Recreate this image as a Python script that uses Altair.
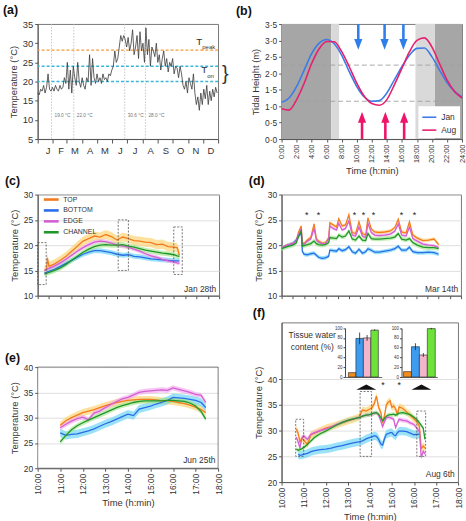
import altair as alt
import pandas as pd

FONT = "Liberation Sans"
TXT = "#333333"
FRAME = "#6a6a6a"

# ---------------- (a) annual daily temperature ----------------
a_days = list(range(0, 366, 3))
a_temp = [
    17, 16.5, 18, 17.5, 19, 17, 18.5, 22, 18, 17.5, 18.5,
    17.5, 19, 18, 17.5, 19, 18, 18.5, 21, 19.5,
    25, 18, 23, 17, 24, 21, 19, 25, 20, 18.5, 21,
    19, 18, 21, 20, 27, 19, 26, 21, 19.5,
    22, 20, 21, 19.5, 22, 20.5, 21, 20, 22, 21.5, 23,
    24, 28, 25, 26, 29, 32, 30.5, 32, 31, 29,
    31.5, 28, 30, 33.5, 27, 29, 32, 26, 33, 28,
    30, 25, 34, 27, 31, 24, 29, 28, 26.5, 30,
    25, 27, 23, 26, 28, 24, 26, 22.5, 25, 24,
    26, 22, 24, 23.5, 21, 24, 22, 19, 18, 20,
    17, 21, 19.5, 18, 22, 17, 14, 16, 12.5, 17,
    14, 18, 15.5, 19, 14, 17.5, 15, 18, 16, 18.5, 17,
]
a_month_starts = [0, 31, 59, 90, 120, 151, 181, 212, 243, 273, 304, 334, 365]
a_month_letters = ["J", "F", "M", "A", "M", "J", "J", "A", "S", "O", "N", "D"]
a_event_days = [28, 73, 176, 218]
a_event_labels = ["19.0 °C", "22.0 °C", "30.6 °C", "28.0 °C"]
a_t_peak = [28.2]
a_t_on = [20.0, 24.0]

# ---------------- (b) tides ----------------
b_hours = list(range(25))
b_jan = [1.12, 1.25, 1.6, 2.1, 2.6, 2.92, 3.03, 2.9, 2.55, 2.05, 1.6, 1.28, 1.15,
         1.17, 1.4, 1.8, 2.2, 2.55, 2.76, 2.77, 2.5, 2.1, 1.72, 1.45, 1.28]
b_aug = [0.92, 0.88, 1.2, 1.7, 2.3, 2.75, 2.97, 2.96, 2.66, 2.2, 1.7, 1.3, 1.08,
         1.03, 1.2, 1.65, 2.15, 2.65, 3.0, 3.08, 2.8, 2.3, 1.8, 1.45, 1.25]
b_dark = [(0, 6.6), (20.4, 24)]
b_light = [(6.6, 7.65), (17.8, 20.4)]
b_refs = [2.25, 1.15]
b_down_arrows = [10.2, 13.7, 16.2]
b_up_arrows = [10.7, 13.8, 16.3]

SER = ["TOP", "BOTTOM", "EDGE", "CHANNEL"]
LINE_COL = ["#f47b20", "#2b6de8", "#d45fd2", "#21962b"]
BAND_COL = ["#fcd36b", "#62d2f4", "#f2a9ee", "#a3e68d"]

# ---------------- (c) Jan 28th ----------------
c_x = [0.6, 0.8, 0.85, 1.0, 1.5, 2.0, 2.5, 3.0, 3.5, 4.0, 4.5, 5.0, 5.5, 6.0,
       6.5, 7.0, 7.5, 8.0, 8.5, 9.0, 9.5, 10.0, 10.5, 11.0, 11.5, 12.0, 12.3, 12.5]
c_y = {
    "TOP": [15.0, 15.3, 17.5, 15.8, 16.3, 17.0, 17.8, 18.8, 19.8, 20.8, 21.3, 21.8, 21.6, 22.1,
            21.7, 21.0, 21.6, 21.3, 20.9, 20.8, 20.6, 20.5, 20.1, 20.2, 19.7, 19.6, 19.5, 18.0],
    "BOTTOM": [14.5, 14.6, 14.7, 14.8, 15.2, 15.8, 16.4, 17.0, 17.6, 18.2, 18.6, 18.9, 18.9, 18.7,
               18.5, 18.2, 18.0, 18.1, 17.8, 17.7, 17.5, 17.3, 17.2, 17.1, 17.0, 16.9, 16.9, 16.9],
    "EDGE": [15.0, 15.1, 15.3, 15.4, 15.9, 16.5, 17.2, 18.0, 18.8, 19.5, 20.1, 20.6, 20.8, 20.7,
             20.4, 20.0, 19.8, 19.6, 19.2, 18.8, 18.3, 17.9, 17.6, 17.2, 16.9, 16.7, 16.5, 16.4],
    "CHANNEL": [14.3, 14.4, 14.5, 14.6, 15.0, 15.5, 16.2, 17.0, 17.8, 18.6, 19.2, 19.7, 20.0, 20.1,
                20.0, 20.0, 20.1, 19.8, 19.6, 19.3, 19.0, 18.8, 18.6, 18.4, 18.3, 18.1, 17.9, 17.8],
}
c_half = {"TOP": 0.9, "BOTTOM": 0.5, "EDGE": 0.4, "CHANNEL": 0.5}
c_boxes = {"x": [0, 7.1, 12.0], "x2": [0.75, 8.0, 12.75], "y": [12.2, 15.0, 14.2], "y2": [20.5, 25.0, 23.6]}

# ---------------- (d) Mar 14th ----------------
d_x = [0, 0.5, 1.0, 1.3, 1.5, 1.75, 1.85, 2.0, 2.3, 2.6, 2.9, 3.1, 3.3, 3.6, 3.9, 4.2, 4.3,
       4.6, 4.9, 5.1, 5.4, 5.7, 6.0, 6.3, 6.6, 6.9, 7.2, 7.5, 7.7, 8.0, 8.3, 8.7, 9.2, 9.7,
       10.1, 10.4, 10.7, 11.1, 11.4, 11.7, 12.1, 12.6, 13.1, 13.6, 14.0]
d_y = {
    "TOP": [19.5, 20.0, 20.3, 20.8, 22.5, 23.8, 20.5, 20.3, 21.0, 21.5, 24.2, 21.3, 20.8, 20.4,
            20.4, 21.5, 24.4, 24.0, 23.6, 25.2, 23.8, 24.0, 26.0, 22.5, 22.3, 24.6, 22.3, 22.0,
            25.4, 23.2, 22.6, 22.5, 22.6, 22.8, 23.5, 25.1, 22.6, 22.4, 24.6, 22.0, 21.4, 20.9,
            21.0, 21.2, 20.1],
    "BOTTOM": [19.5, 19.9, 20.3, 21.0, 21.8, 22.5, 18.8, 18.2, 18.1, 18.3, 18.4, 18.0, 17.6, 17.4,
               17.5, 17.8, 19.0, 18.9, 18.8, 19.3, 18.9, 19.1, 19.7, 18.7, 18.4, 19.2, 18.4, 18.7,
               19.3, 19.0, 18.6, 18.6, 18.8, 19.0, 19.3, 19.8, 19.0, 19.0, 19.6, 18.7, 18.5, 18.5,
               18.6, 18.5, 18.2],
    "EDGE": [19.5, 20.0, 20.3, 20.8, 22.0, 23.2, 20.0, 20.2, 20.8, 21.2, 23.3, 21.0, 20.6, 20.3,
             20.3, 21.2, 23.8, 23.3, 23.0, 24.3, 23.0, 23.3, 24.8, 22.0, 21.8, 23.6, 21.8, 21.5,
             24.3, 22.5, 22.0, 21.9, 22.0, 22.2, 22.8, 24.2, 22.0, 21.8, 23.6, 21.3, 20.8, 20.2,
             20.0, 19.9, 19.5],
    "CHANNEL": [19.3, 19.7, 20.0, 20.4, 21.6, 22.8, 19.8, 19.9, 20.1, 20.3, 20.8, 20.3, 20.1, 20.0,
                20.1, 20.5, 21.5, 21.4, 21.3, 22.0, 21.6, 21.8, 22.8, 21.2, 21.0, 21.8, 21.0, 20.9,
                22.3, 21.3, 21.2, 21.2, 21.3, 21.4, 21.6, 22.3, 21.2, 21.0, 21.3, 20.5, 20.0, 19.6,
                19.5, 19.5, 19.3],
}
d_half = {"TOP": 0.35, "BOTTOM": 0.4, "EDGE": 0.3, "CHANNEL": 0.45}
d_stars = [2.24, 3.3, 6.5, 7.3, 8.2, 10.7, 11.85]

# ---------------- (e) Jun 25th ----------------
e_x = [11.0, 11.25, 11.5, 11.75, 12.0, 12.25, 12.5, 12.75, 13.0, 13.25, 13.5, 13.75, 14.0,
       14.25, 14.5, 14.75, 15.0, 15.25, 15.5, 15.75, 16.0, 16.25, 16.5, 16.75, 17.0, 17.25, 17.45]
e_y = {
    "TOP": [28.5, 29.4, 30.0, 30.5, 31.0, 31.3, 31.6, 32.0, 32.4, 32.7, 33.0, 33.2, 33.4, 33.5,
            33.6, 33.6, 33.6, 33.5, 33.3, 33.3, 33.2, 33.0, 32.8, 32.5, 32.1, 31.6, 31.0],
    "BOTTOM": [27.0, 26.5, 26.7, 26.8, 27.1, 27.4, 27.8, 28.3, 28.8, 29.2, 29.7, 30.2, 30.7, 30.4,
               31.7, 32.0, 32.3, 32.7, 33.0, 33.4, 34.0, 33.9, 33.8, 33.6, 33.4, 33.0, 32.0],
    "EDGE": [28.0, 28.7, 29.3, 29.8, 30.1, 29.6, 30.9, 31.3, 32.0, 32.6, 33.2, 33.7, 34.0, 34.5,
             35.0, 35.2, 35.3, 35.4, 35.5, 35.4, 35.9, 35.6, 35.3, 35.0, 34.6, 34.4, 33.0],
    "CHANNEL": [25.2, 26.5, 27.6, 28.4, 29.0, 29.5, 30.0, 30.5, 31.0, 31.5, 32.0, 32.4, 32.7, 33.0,
                33.2, 33.3, 33.3, 33.3, 33.3, 33.4, 33.4, 33.3, 33.2, 32.9, 32.3, 31.2, 29.7],
}
e_half = {"TOP": 0.7, "BOTTOM": 0.8, "EDGE": 0.5, "CHANNEL": 0.5}
e_frame = {"x": [10], "x2": [18], "y": [20], "y2": [40]}

# ---------------- (f) Aug 6th ----------------
f_x = [10.67, 10.75, 10.83, 10.92, 11.0, 11.17, 11.33, 11.5, 11.75, 12.0, 12.25, 12.5, 12.75,
       13.0, 13.25, 13.5, 13.67, 13.83, 14.0, 14.1, 14.2, 14.3, 14.4, 14.5, 14.58, 14.67, 14.75,
       14.83, 14.92, 15.0, 15.08, 15.17, 15.25, 15.33, 15.5, 15.67, 15.83, 16.0, 16.17, 16.25,
       16.33, 16.42, 16.5]
f_y = {
    "TOP": [30.3, 29.5, 27.8, 28.5, 28.2, 27.3, 29.2, 29.5, 30.0, 30.5, 30.8, 31.1, 31.5, 31.9,
            32.2, 32.6, 34.0, 33.8, 34.2, 34.5, 35.2, 36.7, 34.5, 33.5, 31.5, 33.0, 35.0, 35.5,
            35.8, 34.5, 34.8, 34.2, 33.2, 34.6, 34.3, 33.6, 33.0, 32.3, 31.5, 30.8, 26.5, 27.0, 26.6],
    "EDGE": [28.7, 27.8, 26.7, 28.5, 29.0, 28.3, 29.3, 29.6, 30.0, 30.3, 30.7, 31.2, 31.6, 32.0,
             32.3, 32.5, 32.8, 33.0, 33.1, 33.2, 33.4, 33.5, 33.0, 31.8, 30.8, 31.8, 32.5, 32.6,
             32.5, 32.4, 32.2, 30.6, 31.5, 32.2, 32.0, 31.9, 31.5, 31.2, 30.3, 29.8, 24.8, 26.0, 25.5],
    "CHANNEL": [26.4, 26.2, 26.3, 26.5, 26.7, 27.3, 28.0, 28.7, 29.4, 29.9, 30.5, 31.1, 31.6, 32.0,
                32.3, 32.5, 32.8, 33.0, 33.1, 33.3, 33.4, 33.5, 33.2, 32.5, 31.9, 32.4, 32.8, 33.0,
                33.1, 33.1, 33.2, 33.0, 33.2, 33.4, 33.5, 33.3, 33.1, 32.6, 32.0, 31.5, 31.0, 30.5, 28.3],
}
f_bottom_x = f_x[1:40]
f_bottom_y = [25.4, 25.2, 25.3, 25.4, 25.6, 25.9, 26.1, 26.3, 26.4, 26.6, 26.9, 27.1, 27.4,
              27.6, 27.8, 28.0, 28.4, 28.7, 28.8, 29.0, 28.9, 28.3, 27.4, 27.2, 28.5, 29.3,
              29.4, 29.6, 29.6, 29.2, 29.0, 29.6, 29.9, 29.9, 29.8, 29.5, 29.2, 29.3, 29.2]
f_half = {"TOP": 0.7, "BOTTOM": 0.8, "EDGE": 0.4, "CHANNEL": 0.4}
f_boxes = {"x": [10.64, 13.56, 16.13], "x2": [11.0, 14.08, 16.53], "y": [25, 25, 25], "y2": [32.2, 37.6, 33.8]}
f_stars = [14.6, 15.33]
f_arrowheads = [13.84, 16.34]
inset_cats = ["dry", "bottom", "edge", "channel"]
inset_cols = ["#f28c1e", "#3d9bf0", "#f3b5c9", "#6fe23a"]
inset1_val = [9, 79, 80, 96]
inset1_err = [0, 12, 6, 1.5]
inset2_val = [11, 62, 45, 99]
inset2_err = [0, 7, 4, 1.5]


# ---------------- helpers ----------------
def ptitle(text, dx, dy=3):
    return alt.TitleParams(text=text, anchor="start", frame="group", orient="top", fontSize=12.5,
                           fontWeight="bold", font=FONT, color="#111111", dx=dx, dy=dy,
                           offset=0, baseline="middle")


def frame_view():
    return alt.ViewBackground(stroke=FRAME, strokeWidth=0.9)


def spacer(w, h):
    return alt.Chart(pd.DataFrame({"s": [0]})).mark_point(opacity=0).encode(
        x=alt.X("s:Q", axis=None), y=alt.Y("s:Q", axis=None)
    ).properties(width=w, height=h)


# ---------------- panel (a) ----------------
a_df = pd.DataFrame({"day": a_days, "temp": a_temp})
month_expr = ("indexof(%s, datum.value) < 12 ? %s[indexof(%s, datum.value)] : ''"
              % (a_month_starts, a_month_letters, a_month_starts))
xa = alt.X("day:Q", scale=alt.Scale(domain=[0, 365], nice=False, zero=False),
           axis=alt.Axis(values=a_month_starts, labelExpr=month_expr, labelOffset=7.6, title=None,
                         grid=False, tickSize=4, labelFontSize=9.5, labelPadding=3))
ya = alt.Y("temp:Q", scale=alt.Scale(domain=[5, 35], nice=False, zero=False),
           axis=alt.Axis(values=[5, 10, 15, 20, 25, 30, 35], title="Temperature (°C)", grid=False,
                         labelFontSize=9.5, tickSize=3))
a_line = alt.Chart(a_df).mark_line(color="#3a3a3a", strokeWidth=0.8).encode(x=xa, y=ya)
a_vl = alt.Chart(pd.DataFrame({"day": a_event_days})).mark_rule(
    color="#b8b8b8", strokeWidth=0.8, strokeDash=[1.5, 1.5]).encode(x=xa)
a_peak = alt.Chart(pd.DataFrame({"temp": a_t_peak})).mark_rule(
    color="#f39a3c", strokeWidth=1.3, strokeDash=[3, 2]).encode(y=ya)
a_on = alt.Chart(pd.DataFrame({"temp": a_t_on})).mark_rule(
    color="#3cb6d8", strokeWidth=1.5, strokeDash=[3, 2]).encode(y=ya)
a_evtxt = alt.Chart(pd.DataFrame({"day": a_event_days, "temp": [11] * 4, "lab": a_event_labels})).mark_text(
    align="left", dx=3, fontSize=4.8, color="#777777", font=FONT).encode(x=xa, y=ya, text="lab:N")
a_ttxt = alt.Chart(pd.DataFrame({"day": [321, 333, 331, 343, 373], "temp": [30.2, 29.0, 22.9, 21.4, 22.0],
                                 "lab": ["T", "peak", "T", "on", "}"],
                                 "fs": [10, 6, 10, 6, 20]})).mark_text(
    align="left", color="#333333", font=FONT, fontWeight=300).encode(
    x=xa, y=ya, text="lab:N", size=alt.Size("fs:Q", scale=None, legend=None))
panel_a = alt.layer(a_on, a_peak, a_vl, a_evtxt, a_line, a_ttxt).properties(
    width=182, height=116, title=ptitle("(a)", -35), view=frame_view())

# ---------------- panel (b) ----------------
b_df = pd.DataFrame({"h": b_hours * 2, "height": b_jan + b_aug,
                     "month": ["Jan"] * len(b_hours) + ["Aug"] * len(b_hours)})
xb = alt.X("h:Q", scale=alt.Scale(domain=[0, 24], nice=False, zero=False),
           axis=alt.Axis(values=list(range(0, 25, 2)), labelExpr="datum.value + ':00'", labelAngle=270,
                         title="Time (h:min)", grid=False, tickSize=3, labelFontSize=7.5,
                         labelPadding=2, titlePadding=3))
yb = alt.Y("height:Q", scale=alt.Scale(domain=[0, 3.5], nice=False, zero=False),
           axis=alt.Axis(values=[0, 0.5, 1, 1.5, 2, 2.5, 3, 3.5],
                         labelExpr="replace(format(datum.value, '.1f'), '.', '·')",
                         title="Tidal Height (m)", grid=False, tickSize=3, labelFontSize=8.5))
b_dk = alt.Chart(pd.DataFrame({"h": [s for s, e in b_dark], "h2": [e for s, e in b_dark]})).mark_rect(
    color="#a6a6a6").encode(x=xb, x2="h2:Q")
b_lt = alt.Chart(pd.DataFrame({"h": [s for s, e in b_light], "h2": [e for s, e in b_light]})).mark_rect(
    color="#d9d9d9").encode(x=xb, x2="h2:Q")
b_ref = alt.Chart(pd.DataFrame({"height": b_refs})).mark_rule(
    color="#a0a0a0", strokeDash=[5, 3], strokeWidth=0.9).encode(y=yb)
b_lines = alt.Chart(b_df).mark_line(strokeWidth=1.6, interpolate="monotone").encode(
    x=xb, y=yb,
    color=alt.Color("month:N", scale=alt.Scale(domain=["Jan", "Aug"], range=["#3d7be6", "#e5216f"]),
                    legend=alt.Legend(title=None, orient="none", legendX=138, legendY=83,
                                      fillColor="white", padding=3, symbolType="stroke",
                                      symbolStrokeWidth=1.6, symbolSize=200, labelFontSize=8.5,
                                      labelFont=FONT, rowPadding=-1, labelColor=TXT)))
b_dshaft = alt.Chart(pd.DataFrame({"h": b_down_arrows, "height": [3.5] * 3, "y2": [3.0] * 3})).mark_rule(
    color="#2f7fea", strokeWidth=2.6).encode(x=xb, y=yb, y2="y2:Q")
b_dhead = alt.Chart(pd.DataFrame({"h": b_down_arrows, "height": [2.88] * 3})).mark_point(
    shape="M-0.75,-1L0.75,-1L0,1Z", filled=True, opacity=1, size=121, color="#2f7fea").encode(x=xb, y=yb)
b_ushaft = alt.Chart(pd.DataFrame({"h": b_up_arrows, "height": [0.0] * 3, "y2": [0.52] * 3})).mark_rule(
    color="#ef1468", strokeWidth=2.6).encode(x=xb, y=yb, y2="y2:Q")
b_uhead = alt.Chart(pd.DataFrame({"h": b_up_arrows, "height": [0.66] * 3})).mark_point(
    shape="M-0.75,1L0.75,1L0,-1Z", filled=True, opacity=1, size=121, color="#ef1468").encode(x=xb, y=yb)
panel_b = alt.layer(b_dk, b_lt, b_ref, b_lines, b_dshaft, b_dhead, b_ushaft, b_uhead).properties(
    width=182, height=116, title=ptitle("(b)", -46), view=frame_view())


# ---------------- temperature panels ----------------
def series_df(xs, ys, half):
    rows = []
    for s in SER:
        xx = xs[s] if isinstance(xs, dict) else xs
        for x, y in zip(xx, ys[s]):
            rows.append({"t": x, "temp": y, "series": s, "half": half[s]})
    return pd.DataFrame(rows)


def temp_layers(df, xenc, ydom, yvals, label, label_xy, legend=None, **axis_kw):
    yaxis = alt.Axis(values=yvals, title="Temperature (°C)", grid=True, gridColor="#d6d6d6",
                     gridWidth=0.8, tickSize=3, labelFontSize=8.5, **axis_kw)
    yscale = alt.Scale(domain=ydom, nice=False, zero=False)
    bands = []
    for s, col in zip(SER, BAND_COL):
        bands.append(alt.Chart(df[df["series"] == s]).transform_calculate(
            lo="datum.temp - datum.half", hi="datum.temp + datum.half"
        ).mark_area(opacity=0.65, color=col).encode(
            x=xenc, y=alt.Y("lo:Q", scale=yscale, axis=yaxis), y2="hi:Q"))
    band = alt.layer(*bands)
    lines = alt.Chart(df).mark_line(strokeWidth=1.3).encode(
        x=xenc, y=alt.Y("temp:Q", scale=yscale, axis=yaxis),
        color=alt.Color("series:N", scale=alt.Scale(domain=SER, range=LINE_COL), legend=legend))
    lab = alt.Chart(pd.DataFrame({"t": [label_xy[0]], "temp": [label_xy[1]], "lab": [label]})).mark_text(
        align="right", baseline="middle", fontSize=8.5, font=FONT, color=TXT).encode(
        x=xenc, y=alt.Y("temp:Q", scale=yscale, axis=yaxis), text="lab:N")
    return band, lines, lab, yscale, yaxis


def boxes_layer(boxes, xenc, yscale, yaxis, dash=(2, 1.5), color="#555555", width=0.8):
    return alt.Chart(pd.DataFrame({"t": boxes["x"], "t2": boxes["x2"], "temp": boxes["y"],
                                   "temp2": boxes["y2"]})).mark_rect(
        fillOpacity=0, stroke=color, strokeWidth=width, strokeDash=list(dash)).encode(
        x=xenc, x2="t2:Q", y=alt.Y("temp:Q", scale=yscale, axis=yaxis), y2="temp2:Q")


x16 = alt.X("t:Q", scale=alt.Scale(domain=[0, 16], nice=False, zero=False),
            axis=alt.Axis(values=list(range(17)), labels=False, title=None, grid=False, tickSize=3))
xtime = alt.X("t:Q", scale=alt.Scale(domain=[10, 18], nice=False, zero=False),
              axis=alt.Axis(values=list(range(10, 19)), labelExpr="datum.value + ':00'", labelAngle=270,
                            title="Time (h:min)", grid=False, tickSize=3, labelFontSize=8.5,
                            labelPadding=2, titlePadding=3))

# (c)
c_df = series_df(c_x, c_y, c_half)
c_leg = alt.Legend(title=None, orient="none", legendX=10.2, legendY=1.5, padding=0,
                   symbolType="M-3.75,0H3.75", symbolStrokeWidth=2.6, symbolSize=16,
                   labelFontSize=7, labelFont=FONT, rowPadding=0, labelColor=TXT, labelOffset=8.5)
c_band, c_lines, c_lab, c_ys, c_ya = temp_layers(c_df, x16, [10, 30], [10, 15, 20, 25, 30], "Jan 28th",
                                                 (15.75, 11.4), legend=c_leg)
panel_c = alt.layer(c_band, c_lines, boxes_layer(c_boxes, x16, c_ys, c_ya), c_lab).properties(
    width=183, height=102, title=ptitle("(c)", -33), view=frame_view())

# (d)
d_df = series_df(d_x, d_y, d_half)
d_band, d_lines, d_lab, d_ys, d_ya = temp_layers(d_df, x16, [10, 30], [10, 15, 20, 25, 30], "Mar 14th",
                                                 (15.75, 11.4))
d_star = alt.Chart(pd.DataFrame({"t": d_stars, "temp": [26.0] * len(d_stars)})).mark_text(
    text="*", fontSize=9, font=FONT, color="#222222", baseline="middle").encode(
    x=x16, y=alt.Y("temp:Q", scale=d_ys, axis=d_ya))
panel_d = alt.layer(d_band, d_lines, d_star, d_lab).properties(
    width=181, height=102, title=ptitle("(d)", -33), view=frame_view())

# (e): drawn in a taller cell so its row can line up with (f); frame drawn over the 20-40 range
E_EXTRA = 45
e_df = series_df(e_x, e_y, e_half)
e_band, e_lines, e_lab, e_ys, e_ya = temp_layers(
    e_df, xtime, [20, 40 + E_EXTRA / 5.1], [20, 25, 30, 35, 40], "Jun 25th", (17.88, 21.7),
    domain=False, titleY=E_EXTRA + 51)
e_box = boxes_layer(e_frame, xtime, e_ys, e_ya, dash=(1, 0), color=FRAME, width=0.9)
panel_e = alt.layer(e_band, e_lines, e_lab, e_box).properties(
    width=182, height=102 + E_EXTRA, title=ptitle("(e)", -33, 3 + E_EXTRA))

# (f)
f_xs = {"TOP": f_x, "EDGE": f_x, "CHANNEL": f_x, "BOTTOM": f_bottom_x}
f_ys = dict(f_y)
f_ys["BOTTOM"] = f_bottom_y
f_df = series_df(f_xs, f_ys, f_half)
f_band, f_lines, f_lab, f_ysc, f_ya = temp_layers(f_df, xtime, [20, 51], [20, 25, 30, 35, 40], "Aug 6th",
                                                  (17.85, 21.5))
f_yenc = alt.Y("temp:Q", scale=f_ysc, axis=f_ya)
f_star = alt.Chart(pd.DataFrame({"t": f_stars, "temp": [38.8] * 2})).mark_text(
    text="*", fontSize=9, font=FONT, color="#222222", baseline="middle").encode(x=xtime, y=f_yenc)
f_tri = alt.Chart(pd.DataFrame({"t": f_arrowheads, "temp": [38.45] * 2})).mark_point(
    shape="M-1,0.27L0,-0.27L1,0.27Z", filled=True, opacity=1, size=400, color="#111111").encode(
    x=xtime, y=f_yenc)
f_tw = alt.Chart(pd.DataFrame({"t": [11.39, 11.39], "temp": [48.65, 46.15],
                               "lab": ["Tissue water", "content (%)"]})).mark_text(
    fontSize=8.5, font=FONT, color=TXT, baseline="middle").encode(x=xtime, y=f_yenc, text="lab:N")
f_main = alt.layer(f_band, f_lines, boxes_layer(f_boxes, xtime, f_ysc, f_ya), f_star, f_tri, f_tw, f_lab)


def inset(vals, errs, xrange, pad_outer, axis_offset):
    df = pd.DataFrame({"cat": inset_cats, "val": vals,
                       "lo": [v - e for v, e in zip(vals, errs)], "hi": [v + e for v, e in zip(vals, errs)]})
    xs = alt.Scale(domain=inset_cats, range=xrange, paddingInner=0, paddingOuter=pad_outer)
    ys = alt.Scale(domain=[0, 100], range=[55, 5.7], nice=False)
    xax = alt.Axis(orient="bottom", offset=-106, labels=False, ticks=False, title=None, grid=False,
                   domainColor="#444444", domainWidth=0.8)
    yax = alt.Axis(orient="left", offset=-axis_offset, values=[0, 20, 40, 60, 80, 100], title=None,
                   grid=False, labelFontSize=4.5, tickSize=2, labelPadding=1, domainColor="#444444",
                   tickColor="#444444")
    bars = alt.Chart(df).mark_bar(stroke="#222222", strokeWidth=0.6).encode(
        x=alt.X("cat:N", scale=xs, axis=xax, sort=inset_cats),
        y=alt.Y("val:Q", scale=ys, axis=yax),
        color=alt.Color("cat:N", scale=alt.Scale(domain=inset_cats, range=inset_cols), legend=None))
    err = alt.Chart(df[df["hi"] > df["lo"]]).mark_rule(color="#222222", strokeWidth=0.8).encode(
        x=alt.X("cat:N", scale=xs, axis=xax, sort=inset_cats),
        y=alt.Y("lo:Q", scale=ys, axis=yax), y2="hi:Q")
    return alt.layer(bars, err)


f_in1 = inset(inset1_val, inset1_err, [64, 101], 0.45, 64)
f_in2 = inset(inset2_val, inset2_err, [121, 157], 0.25, 121)

panel_f = alt.layer(f_main, f_in1, f_in2).resolve_scale(
    x="independent", y="independent", color="independent"
).properties(width=178, height=161, title=ptitle("(f)", -29), view=frame_view())

chart = alt.concat(
    panel_a, spacer(63, 1), panel_b,
    spacer(182, 56), spacer(1, 56), spacer(182, 56),
    panel_c, spacer(52, 1), panel_d,
    spacer(183, 27), spacer(1, 27), spacer(181, 27),
    panel_e, spacer(56, 1), panel_f,
    columns=3, spacing=0, bounds="flush", align="none",
).resolve_scale(
    x="independent", y="independent", color="independent"
).properties(
    padding={"left": 2, "top": 1, "right": 0, "bottom": 0}
).configure(
    font=FONT
).configure_view(
    stroke=None
).configure_axis(
    labelFont=FONT, titleFont=FONT, labelColor=TXT, titleColor=TXT, domainColor="#555555",
    tickColor="#555555", titleFontSize=9.5, titleFontWeight="normal", titlePadding=4
)

chart.save("out.html", embed_options={"renderer": "svg", "actions": False})
